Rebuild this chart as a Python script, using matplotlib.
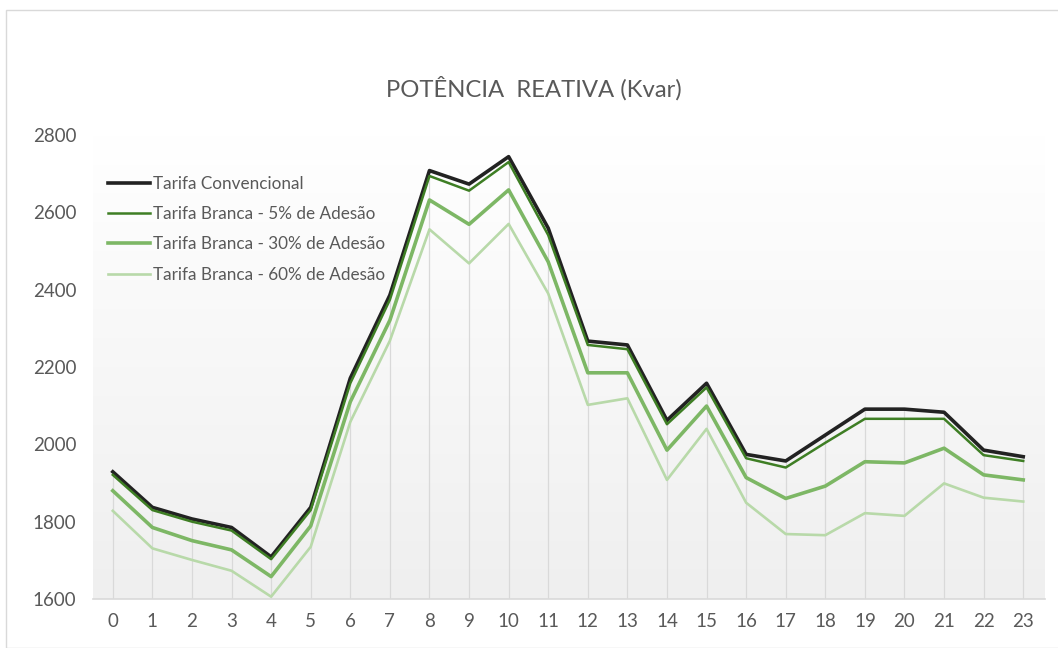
import numpy as np
import matplotlib
matplotlib.use("Agg")
import matplotlib.pyplot as plt
from matplotlib.patches import Rectangle
from matplotlib.colors import LinearSegmentedColormap

plt.rcParams['font.family'] = ['Lato', 'DejaVu Sans']

# Hours of the day
hours = list(range(24))

# Reactive power per hour (kvar)
convencional = [1929, 1837, 1807, 1785, 1709, 1837, 2171, 2386, 2708, 2673, 2744, 2559,
                2267, 2257, 2062, 2158, 1974, 1957, 2024, 2091, 2091, 2083, 1985, 1968]
branca_5 = [1921, 1830, 1800, 1777, 1703, 1830, 2158, 2374, 2694, 2656, 2730, 2541,
            2257, 2246, 2052, 2147, 1964, 1940, 2004, 2066, 2066, 2066, 1972, 1957]
branca_30 = [1880, 1785, 1751, 1727, 1658, 1789, 2110, 2321, 2632, 2569, 2658, 2472,
             2185, 2185, 1985, 2099, 1914, 1860, 1892, 1955, 1952, 1990, 1921, 1908]
branca_60 = [1828, 1731, 1701, 1673, 1606, 1735, 2058, 2268, 2556, 2468, 2570, 2390,
             2102, 2119, 1908, 2040, 1849, 1768, 1765, 1822, 1815, 1899, 1862, 1852]

series_labels = ["Tarifa Convencional",
                 "Tarifa Branca - 5% de Adesão",
                 "Tarifa Branca - 30% de Adesão",
                 "Tarifa Branca - 60% de Adesão"]
y_ticks = [1600, 1800, 2000, 2200, 2400, 2600, 2800]

W, H = 1058, 648
fig = plt.figure(figsize=(W / 100, H / 100), dpi=100)
fig.patch.set_facecolor("white")

# Thin outer frame of the chart area
fig.patches.append(Rectangle((6 / W, 0), 1.2, (H - 10) / H, transform=fig.transFigure,
                             fill=False, edgecolor="#d9d9d9", linewidth=1.0))

ax = fig.add_axes([93 / W, (H - 599) / H, (1045 - 93) / W, (599 - 135) / H])
ax.set_xlim(-0.5, 23.55)
ax.set_ylim(1600, 2800)

# Plot-area background: vertical gradient from white to light grey
grad = LinearSegmentedColormap.from_list("bg", ["#efefef", "#ffffff"])
ax.imshow(np.linspace(0, 1, 256).reshape(-1, 1), cmap=grad, aspect="auto",
          extent=[-0.5, 23.55, 1600, 2800], origin="lower", zorder=0)

# Drop lines from the highest series down to the axis
tops = np.max([convencional, branca_5, branca_30, branca_60], axis=0)
ax.vlines(hours, 1600, tops, color="#d9d9d9", linewidth=0.9, zorder=1)

ax.plot(hours, branca_60, color="#b8d9a9", linewidth=1.9, label=series_labels[3], zorder=3)
ax.plot(hours, branca_30, color="#7db765", linewidth=2.6, label=series_labels[2], zorder=4)
ax.plot(hours, convencional, color="#222222", linewidth=2.6, label=series_labels[0], zorder=5)
ax.plot(hours, branca_5, color="#3e7e24", linewidth=1.8, label=series_labels[1], zorder=6)

for side in ["top", "right", "left"]:
    ax.spines[side].set_visible(False)
ax.spines["bottom"].set_color("#d9d9d9")
ax.spines["bottom"].set_linewidth(1.2)

ax.set_xticks(hours)
ax.set_xticklabels([str(h) for h in hours])
ax.set_yticks(y_ticks)
ax.set_yticklabels([str(v) for v in y_ticks])
ax.tick_params(axis="both", length=0, labelsize=13.5, labelcolor="#595959")
ax.tick_params(axis="y", pad=12)
ax.tick_params(axis="x", pad=10)

fig.text(534 / W, (H - 88) / H, "POTÊNCIA  REATIVA (Kvar)", ha="center", va="center",
         fontsize=17.2, color="#595959")

handles, labels = ax.get_legend_handles_labels()
order = [labels.index(l) for l in series_labels]
leg = ax.legend([handles[i] for i in order], [labels[i] for i in order],
                loc="upper left", bbox_to_anchor=(108 / W, (H - 176) / H),
                bbox_transform=fig.transFigure, frameon=False, fontsize=12.3,
                handlelength=2.45, handletextpad=0.2, labelspacing=0.83,
                borderpad=0, borderaxespad=0)
for t in leg.get_texts():
    t.set_color("#595959")

fig.savefig("out.png", dpi=100, facecolor="white")
